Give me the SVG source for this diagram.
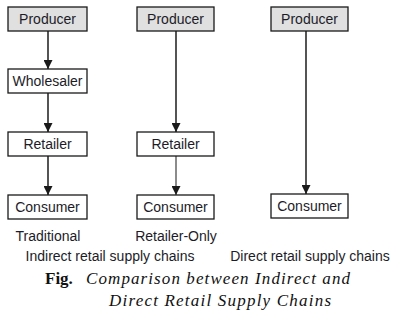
<svg xmlns="http://www.w3.org/2000/svg" width="396" height="316" viewBox="0 0 396 316">
<style>
.box{fill:#fff;stroke:#1a1a1a;stroke-width:1.3}
.prod{fill:#e0e0e0}
.t{font-family:"Liberation Sans",Arial,sans-serif;font-size:14px;fill:#1c1c28;text-anchor:middle}
.ln{stroke:#2a2a2a;stroke-width:1.6;fill:none}
.g{stroke:#6e6e6e}
.cap{font-family:"Liberation Serif","Times New Roman",serif;font-size:17px;fill:#111}
</style>
<defs>
<marker id="ah" markerUnits="userSpaceOnUse" markerWidth="9" markerHeight="9" refX="9" refY="4.5" orient="auto" viewBox="0 0 9 9">
<path d="M0,0 L9,4.5 L0,9 z" fill="#1a1a1a"/>
</marker>
</defs>
<rect width="396" height="316" fill="#fff"/>
<g id="connectors">
<line class="ln" x1="48" y1="31" x2="48" y2="69" marker-end="url(#ah)"/>
<line class="ln" x1="48" y1="93" x2="48" y2="132" marker-end="url(#ah)"/>
<line class="ln" x1="48" y1="156" x2="48" y2="195" marker-end="url(#ah)"/>
<line class="ln" x1="176" y1="31" x2="176" y2="132" marker-end="url(#ah)"/>
<line class="ln g" x1="176" y1="156" x2="176" y2="195" marker-end="url(#ah)"/>
<line class="ln" x1="306" y1="31" x2="306" y2="194" marker-end="url(#ah)"/>
</g>
<g id="producer1"><rect class="box prod" x="8" y="7" width="79" height="24"/><text class="t" x="47.5" y="24">Producer</text></g>
<g id="wholesaler1"><rect class="box" x="8" y="69" width="79" height="24"/><text class="t" x="47.5" y="86">Wholesaler</text></g>
<g id="retailer1"><rect class="box" x="8" y="132" width="79" height="24"/><text class="t" x="47.5" y="149">Retailer</text></g>
<g id="consumer1"><rect class="box" x="8" y="195" width="79" height="24"/><text class="t" x="47.5" y="212">Consumer</text></g>
<g id="producer2"><rect class="box prod" x="137" y="7" width="77" height="24"/><text class="t" x="175.5" y="24">Producer</text></g>
<g id="retailer2"><rect class="box" x="137" y="132" width="77" height="24"/><text class="t" x="175.5" y="149">Retailer</text></g>
<g id="consumer2"><rect class="box" x="137" y="195" width="77" height="24"/><text class="t" x="175.5" y="212">Consumer</text></g>
<g id="producer3"><rect class="box prod" x="271" y="7" width="77" height="24"/><text class="t" x="309.5" y="24">Producer</text></g>
<g id="consumer3"><rect class="box" x="271" y="194" width="77" height="24"/><text class="t" x="309.5" y="211">Consumer</text></g>
<g id="labels">
<text class="t" x="48" y="241">Traditional</text>
<text class="t" x="176" y="241">Retailer-Only</text>
<text class="t" x="110" y="261">Indirect retail supply chains</text>
<text class="t" x="310" y="261">Direct retail supply chains</text>
</g>
<g id="caption">
<text class="cap" x="45" y="284" font-weight="bold">Fig.</text>
<text class="cap" x="86" y="284" font-style="italic" textLength="264" lengthAdjust="spacing">Comparison between Indirect and</text>
<text class="cap" x="109" y="306" font-style="italic" textLength="222" lengthAdjust="spacing">Direct Retail Supply Chains</text>
</g>
</svg>
